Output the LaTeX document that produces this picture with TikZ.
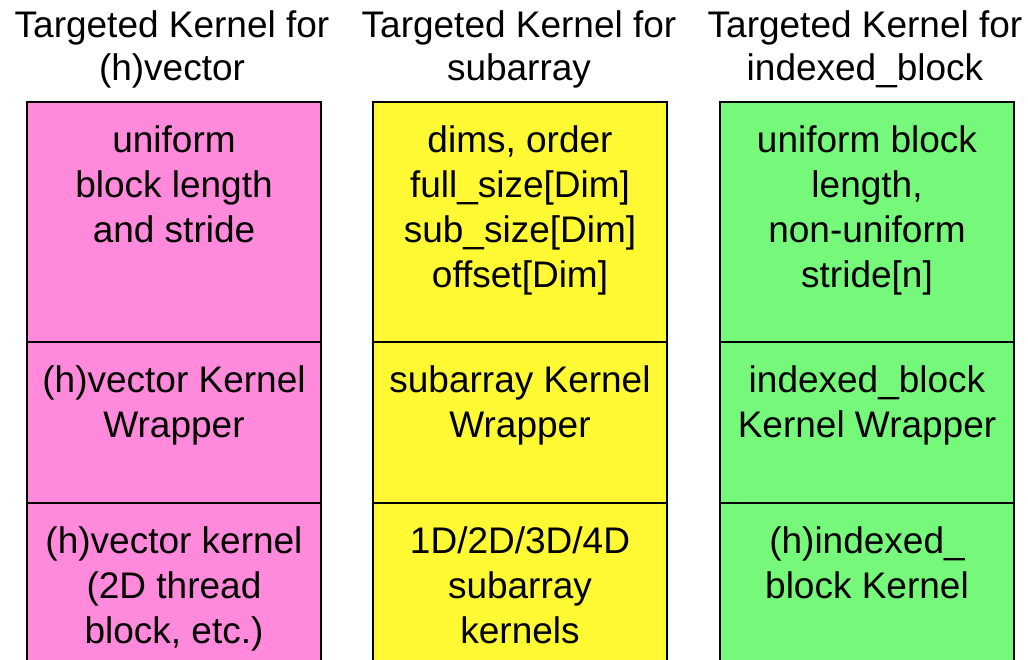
\documentclass[tikz,border=0pt]{standalone}
\usepackage{fontspec}
\setmainfont{Liberation Sans}
\usetikzlibrary{positioning}

\definecolor{vecpink}{RGB}{255,137,218}
\definecolor{subyellow}{RGB}{255,249,52}
\definecolor{idxgreen}{RGB}{118,249,122}

\tikzset{
  cell/.style={draw, line width=2pt, minimum width=294pt, anchor=north, inner sep=0pt, outer sep=0pt},
  celltext/.style={anchor=north, align=center, inner sep=0pt, font=\fontsize{37}{45}\selectfont},
  coltitle/.style={align=center, inner sep=0pt, font=\fontsize{37}{43}\selectfont},
}

\begin{document}
\begin{tikzpicture}[x=1pt,y=-1pt]
\useasboundingbox (0,0) rectangle (1028,659);
\clip (0,0) rectangle (1028,659);

% column titles
\node[coltitle] (vectitle) at (172,49) {Targeted Kernel for\\(h)vector};
\node[coltitle] (subtitle) at (519,49) {Targeted Kernel for\\subarray};
\node[coltitle] (idxtitle) at (865,49) {Targeted Kernel for\\indexed\_block};

% (h)vector column
\node[cell, fill=vecpink, minimum height=240pt] (vecparam) at (174,102) {};
\node[cell, fill=vecpink, minimum height=161pt, below=0pt of vecparam] (vecwrap) {};
\node[cell, fill=vecpink, minimum height=200pt, below=0pt of vecwrap] (veckern) {};

% subarray column
\node[cell, fill=subyellow, minimum height=240pt] (subparam) at (520,102) {};
\node[cell, fill=subyellow, minimum height=161pt, below=0pt of subparam] (subwrap) {};
\node[cell, fill=subyellow, minimum height=200pt, below=0pt of subwrap] (subkern) {};

% indexed_block column
\node[cell, fill=idxgreen, minimum height=240pt] (idxparam) at (867,102) {};
\node[cell, fill=idxgreen, minimum height=161pt, below=0pt of idxparam] (idxwrap) {};
\node[cell, fill=idxgreen, minimum height=200pt, below=0pt of idxwrap] (idxkern) {};

% texts
\node[celltext] (vecparamtxt) at ([yshift=-23pt]vecparam.north) {uniform\\block length\\and stride};
\node[celltext] (vecwraptxt) at ([yshift=-23pt]vecwrap.north) {(h)vector Kernel\\Wrapper};
\node[celltext] (veckerntxt) at ([yshift=-23pt]veckern.north) {(h)vector kernel\\(2D thread\\block, etc.)};

\node[celltext] (subparamtxt) at ([yshift=-23pt]subparam.north) {dims, order\\full\_size[Dim]\\sub\_size[Dim]\\offset[Dim]};
\node[celltext] (subwraptxt) at ([yshift=-23pt]subwrap.north) {subarray Kernel\\Wrapper};
\node[celltext] (subkerntxt) at ([yshift=-23pt]subkern.north) {1D/2D/3D/4D\\subarray\\kernels};

\node[celltext] (idxparamtxt) at ([yshift=-23pt]idxparam.north) {uniform block\\length,\\non-uniform\\stride[n]};
\node[celltext] (idxwraptxt) at ([yshift=-23pt]idxwrap.north) {indexed\_block\\Kernel Wrapper};
\node[celltext] (idxkerntxt) at ([yshift=-23pt]idxkern.north) {(h)indexed\_\\block Kernel};
\end{tikzpicture}
\end{document}
